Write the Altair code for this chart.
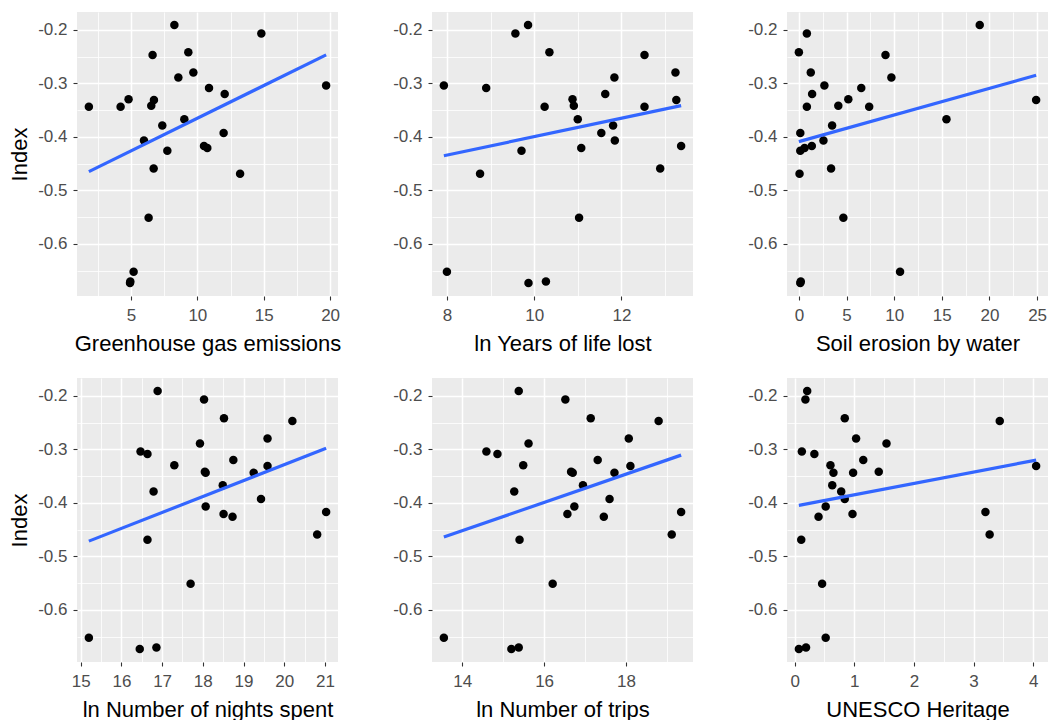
import altair as alt
import pandas as pd

# Common response variable (same countries in every panel)
index_values = [-0.191, -0.207, -0.242, -0.247, -0.280, -0.289, -0.304, -0.309, -0.320,
                -0.330, -0.331, -0.342, -0.344, -0.344, -0.367, -0.379, -0.393, -0.407,
                -0.417, -0.421, -0.426, -0.459, -0.469, -0.551, -0.652, -0.670, -0.673]

# Explanatory variables (same order as index_values)
ghg = [8.27, 14.82, 9.32, 6.63, 9.70, 8.57, 19.70, 10.88, 12.06, 4.82, 6.73, 6.53, 1.83, 4.22,
       9.02, 7.36, 11.98, 5.98, 10.50, 10.75, 7.74, 6.71, 13.22, 6.33, 5.20, 4.95, 4.93]
yll = [9.86, 9.57, 10.35, 12.53, 13.24, 11.84, 7.93, 8.90, 11.63, 10.88, 13.26, 10.91, 10.24, 12.53,
       11.00, 11.81, 11.54, 11.85, 13.37, 11.08, 9.71, 12.89, 8.76, 11.03, 8.00, 10.27, 9.87]
soil = [18.98, 0.84, 0.00, 9.09, 1.25, 9.71, 2.68, 6.55, 1.39, 5.19, 24.90, 4.14, 0.84, 7.38,
        15.49, 3.49, 0.15, 2.58, 1.36, 0.60, 0.15, 3.38, 0.07, 4.67, 10.62, 0.20, 0.15]
nights = [16.89, 18.03, 18.52, 20.20, 19.59, 17.93, 16.47, 16.64, 18.75, 17.30, 19.59, 18.05, 18.07, 19.25,
          18.49, 16.79, 19.43, 18.07, 21.03, 18.51, 18.73, 20.81, 16.64, 17.70, 15.20, 16.86, 16.45]
trips = [15.38, 16.52, 17.14, 18.80, 18.07, 15.62, 14.59, 14.86, 17.31, 15.49, 18.11, 16.66, 16.70, 17.72,
         16.95, 15.27, 17.60, 16.74, 19.35, 16.57, 17.46, 19.12, 15.40, 16.21, 13.55, 15.38, 15.20]
unesco = [0.21, 0.18, 0.84, 3.44, 1.03, 1.54, 0.12, 0.33, 1.15, 0.60, 4.05, 1.41, 0.65, 0.98,
          0.63, 0.78, 0.84, 0.52, 3.20, 0.97, 0.40, 3.27, 0.11, 0.46, 0.52, 0.19, 0.07]

fields = ["ghg", "yll", "soil", "nights", "trips", "unesco"]
x_titles = ["Greenhouse gas emissions", "ln Years of life lost", "Soil erosion by water",
            "ln Number of nights spent", "ln Number of trips", "UNESCO Heritage"]
x_major = [[5, 10, 15, 20], [8, 10, 12], [0, 5, 10, 15, 20, 25],
           [15, 16, 17, 18, 19, 20, 21], [14, 16, 18], [0, 1, 2, 3, 4]]
x_minor = [[2.5, 7.5, 12.5, 17.5], [9, 11, 13], [2.5, 7.5, 12.5, 17.5, 22.5],
           [15.5, 16.5, 17.5, 18.5, 19.5, 20.5], [13, 15, 17, 19], [0.5, 1.5, 2.5, 3.5]]
y_major = [-0.6, -0.5, -0.4, -0.3, -0.2]
y_minor = [-0.65, -0.55, -0.45, -0.35, -0.25]

df = pd.DataFrame({"Index": index_values, "ghg": ghg, "yll": yll, "soil": soil,
                   "nights": nights, "trips": trips, "unesco": unesco})


def expand(vals):
    lo, hi = min(vals), max(vals)
    pad = 0.05 * (hi - lo)
    return [lo - pad, hi + pad]


y_dom = expand(index_values)
FONT = "Liberation Sans"
LBL = "replace(datum.label, '\u2212', '-')"


def panel(i, show_y_title):
    f = fields[i]
    xs = alt.Scale(domain=expand(df[f].tolist()), nice=False, zero=False)
    ys = alt.Scale(domain=y_dom, nice=False, zero=False)
    pts = alt.Chart(df).mark_circle(size=72, color="black", opacity=1).encode(
        x=alt.X(f, type="quantitative", scale=xs,
                axis=alt.Axis(values=x_major[i], title=x_titles[i], orient="bottom",
                              labelExpr=LBL)),
        y=alt.Y("Index", type="quantitative", scale=ys,
                axis=alt.Axis(values=y_major, title=("Index" if show_y_title else None),
                              orient="left", labelExpr=LBL)),
    )
    line = alt.Chart(df).transform_regression(f, "Index").mark_line(
        color="#3366FF", strokeWidth=3.2
    ).encode(
        x=alt.X(f, type="quantitative", scale=xs,
                axis=alt.Axis(values=x_minor[i], orient="bottom", grid=True, gridColor="white",
                              gridWidth=0.8, labels=False, ticks=False, domain=False, title=None)),
        y=alt.Y("Index", type="quantitative", scale=ys,
                axis=alt.Axis(values=y_minor, orient="left", grid=True, gridColor="white",
                              gridWidth=0.8, labels=False, ticks=False, domain=False, title=None)),
    )
    return alt.layer(pts, line).resolve_axis(x="independent", y="independent").properties(
        width=261, height=284)


chart = alt.concat(
    *[panel(i, i % 3 == 0) for i in range(6)],
    columns=3, spacing={"row": 82, "column": 94}, bounds="flush",
).properties(
    padding={"left": 8, "top": 12, "right": 0, "bottom": 0}, background="white"
).configure_view(
    fill="#EBEBEB", stroke=None
).configure_axis(
    grid=True, gridColor="white", gridWidth=1.5, domain=False,
    tickColor="#333333", tickSize=4, tickWidth=1.1,
    labelColor="#4D4D4D", labelFont=FONT, labelFontSize=17, labelPadding=6,
    titleColor="black", titleFont=FONT, titleFontSize=22, titleFontWeight="normal",
    titlePadding=6,
).configure_axisX(
    labelPadding=7, titlePadding=10
)

chart.save("out.html", embed_options={"renderer": "svg", "actions": False})
